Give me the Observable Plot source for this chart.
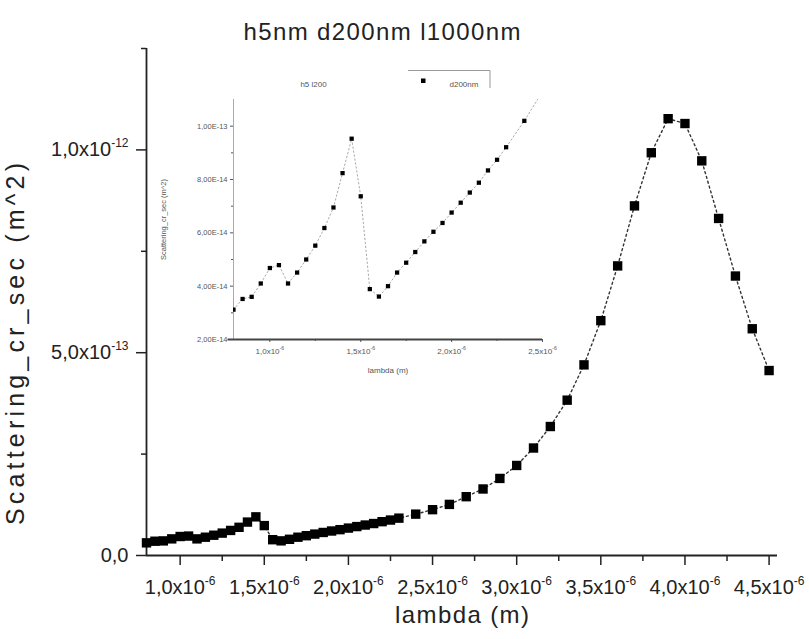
<!DOCTYPE html>
<html><head><meta charset="utf-8">
<script src="https://cdn.jsdelivr.net/npm/d3@7"></script>
<script src="https://cdn.jsdelivr.net/npm/@observablehq/plot@0.6"></script>
<style>
body{margin:0;background:#fff;font-family:"Liberation Sans",Arial,sans-serif}
#wrap{position:relative;width:810px;height:639px;overflow:hidden}
#inset{position:absolute;left:150px;top:60px}
</style></head><body>
<div id="wrap"><div id="main"></div><div id="inset"></div></div>
<script>
// wavelength (m) and scattering cross-section (m^2)
const lambda = [
  0.80e-6,0.85e-6,0.90e-6,0.95e-6,1.00e-6,1.05e-6,1.10e-6,1.15e-6,1.20e-6,1.25e-6,
  1.30e-6,1.35e-6,1.40e-6,1.45e-6,1.50e-6,1.55e-6,1.60e-6,1.65e-6,1.70e-6,1.75e-6,
  1.80e-6,1.85e-6,1.90e-6,1.95e-6,2.00e-6,2.05e-6,2.10e-6,2.15e-6,2.20e-6,2.25e-6,
  2.30e-6,2.40e-6,2.50e-6,2.60e-6,2.70e-6,2.80e-6,2.90e-6,3.00e-6,3.10e-6,3.20e-6,
  3.30e-6,3.40e-6,3.50e-6,3.60e-6,3.70e-6,3.80e-6,3.90e-6,4.00e-6,4.10e-6,4.20e-6,
  4.30e-6,4.40e-6,4.50e-6
];
const scattering = [
  3.12e-14,3.52e-14,3.60e-14,4.10e-14,4.68e-14,4.79e-14,4.10e-14,4.51e-14,5.00e-14,5.52e-14,
  6.18e-14,6.95e-14,8.24e-14,9.53e-14,7.37e-14,3.89e-14,3.61e-14,4.00e-14,4.51e-14,4.88e-14,
  5.28e-14,5.68e-14,6.04e-14,6.37e-14,6.76e-14,7.13e-14,7.51e-14,7.88e-14,8.34e-14,8.74e-14,
  9.21e-14,1.02e-13,1.13e-13,1.26e-13,1.45e-13,1.64e-13,1.90e-13,2.22e-13,2.65e-13,3.18e-13,
  3.83e-13,4.70e-13,5.79e-13,7.14e-13,8.62e-13,9.93e-13,1.077e-12,1.065e-12,9.73e-13,8.31e-13,
  6.89e-13,5.59e-13,4.56e-13
];
const title = "h5nm d200nm l1000nm";
const xLabel = "lambda (m)";
const yLabel = "Scattering_cr_sec (m^2)";
const xMajor = [1.0e-6,1.5e-6,2.0e-6,2.5e-6,3.0e-6,3.5e-6,4.0e-6,4.5e-6];
const xMinor = [1.25e-6,1.75e-6,2.25e-6,2.75e-6,3.25e-6,3.75e-6,4.25e-6];
const yMajor = [0, 5e-13, 1e-12];
const yMajorLabels = ["0,0","5,0x10^-13","1,0x10^-12"];
const yMinor = [2.5e-13, 7.5e-13, 1.25e-12];

const insetTitle = "h5 l200";
const insetLegend = "d200nm";
const insetXMajor = [1.0e-6,1.5e-6,2.0e-6,2.5e-6];
const insetXMinor = [1.25e-6,1.75e-6,2.25e-6];
const insetYMajor = [2e-14,4e-14,6e-14,8e-14,1e-13];
const insetYLabels = ["2,00E-14","4,00E-14","6,00E-14","8,00E-14","1,00E-13"];
const insetYMinor = [3e-14,5e-14,7e-14,9e-14];

const data = lambda.map((x,i)=>({x, y: scattering[i]}));
const fmtX = d => (d/1e-6).toFixed(1).replace(".", ",") + "x10^-6";
const xDom = [0.8e-6, 4.55e-6], yDom = [0, 1.25e-12];
const font = "'Liberation Sans', Arial, sans-serif";

const main = Plot.plot({
  width: 810, height: 639,
  marginLeft: 146, marginRight: 33, marginTop: 48, marginBottom: 84,
  x: {domain: xDom}, y: {domain: yDom},
  style: {fontFamily: font, color: "#222", background: "white", overflow: "visible"},
  marks: [
    Plot.axisX({ticks: xMajor, tickSize: 10, tickPadding: 14, tickFormat: fmtX, fontSize: 20, label: null, strokeWidth: 1.5}),
    Plot.axisX({ticks: xMinor, tickSize: 6, tickFormat: () => "", label: null, strokeWidth: 1.5}),
    Plot.axisY({ticks: yMajor, tickSize: 10, tickPadding: 8, tickFormat: d => yMajorLabels[yMajor.indexOf(d)], fontSize: 20, label: null, strokeWidth: 1.5}),
    Plot.axisY({ticks: yMinor, tickSize: 5, tickFormat: () => "", label: null, strokeWidth: 1.5}),
    Plot.ruleX([xDom[0]], {y1: yDom[0], y2: yDom[1], stroke: "#222", strokeWidth: 1.8}),
    Plot.ruleY([yDom[0]], {x1: xDom[0], x2: xDom[1], stroke: "#222", strokeWidth: 1.8}),
    Plot.line(data, {x: "x", y: "y", stroke: "#333", strokeWidth: 1.4, strokeDasharray: "2,3"}),
    Plot.dot(data, {x: "x", y: "y", symbol: "square", r: 5.3, fill: "black", stroke: "none"}),
    Plot.text([title], {frameAnchor: "top-left", dx: 235.5, dy: -26, textAnchor: "middle", fontSize: 24, fill: "#222"}),
    Plot.text([xLabel], {frameAnchor: "bottom", dy: 67, textAnchor: "middle", fontSize: 24, fill: "#222"}),
    Plot.text([yLabel], {frameAnchor: "left", dx: -131, dy: 42, rotate: -90, textAnchor: "middle", fontSize: 25, fill: "#222"})
  ]
});
document.getElementById("main").append(main);

// superscript exponents on tick labels
function superscripts(svg, scale) {
  d3.select(svg).selectAll('g[aria-label="x-axis tick label"] text, g[aria-label="y-axis tick label"] text').each(function () {
    const t = d3.select(this), s = t.text(), i = s.indexOf("^");
    if (i < 0) return;
    t.text(null);
    t.append("tspan").text(s.slice(0, i));
    t.append("tspan").attr("font-size", scale + "em").attr("dy", "-0.75em").text(s.slice(i + 1));
  });
}
superscripts(main, 0.6);
// stretch the big labels to the reference widths
function stretch(svg, content, len) {
  d3.select(svg).selectAll("text").filter(function () { return this.textContent === content; })
    .attr("textLength", len).attr("lengthAdjust", "spacing");
}
stretch(main, title, 277);
stretch(main, xLabel, 134);
stretch(main, yLabel, 362);

const inset = Plot.plot({
  width: 400, height: 330,
  marginLeft: 83, marginRight: 8, marginTop: 39, marginBottom: 51,
  x: {domain: [0.8e-6, 2.5e-6]}, y: {domain: [2e-14, 1.1e-13]},
  style: {fontFamily: font, color: "#555", background: "transparent", overflow: "visible"},
  marks: [
    Plot.axisX({ticks: insetXMajor, tickSize: 3, tickPadding: 6, tickFormat: fmtX, fontSize: 8, label: null}),
    Plot.axisX({ticks: insetXMinor, tickSize: 2, tickFormat: () => "", label: null}),
    Plot.axisY({ticks: insetYMajor, tickSize: 3, tickPadding: 3, tickFormat: d => insetYLabels[insetYMajor.indexOf(d)], fontSize: 7.5, label: null}),
    Plot.axisY({ticks: insetYMinor, tickSize: 2, tickFormat: () => "", label: null}),
    Plot.ruleX([0.8e-6], {y1: 2e-14, y2: 1.1e-13, stroke: "#aaa", strokeWidth: 1}),
    Plot.ruleY([2e-14], {x1: 0.77e-6, x2: 2.5e-6, stroke: "#444", strokeWidth: 2}),
    Plot.line(data, {x: "x", y: "y", stroke: "#aaa", strokeWidth: 1, strokeDasharray: "1.5,2.5", clip: true}),
    Plot.dot(data, {x: "x", y: "y", symbol: "square", r: 2.4, fill: "black", stroke: "none", clip: true}),
    Plot.text([insetTitle], {frameAnchor: "top-left", dx: 80, dy: -18, textAnchor: "middle", fontSize: 8, fill: "#555"}),
    Plot.text([insetLegend], {frameAnchor: "top-left", dx: 216, dy: -18, textAnchor: "start", fontSize: 8, fill: "#555"}),
    Plot.text([xLabel], {frameAnchor: "bottom", dy: 33, textAnchor: "middle", fontSize: 8, fill: "#555"}),
    Plot.text([yLabel], {frameAnchor: "left", dx: -70, rotate: -90, textAnchor: "middle", fontSize: 7.5, fill: "#555"})
  ]
});
superscripts(inset, 0.65);
document.getElementById("inset").append(inset);

// inset legend frame and symbol
const s = d3.select(inset);
s.append("path").attr("d", "M258,10.5H340V28").attr("fill", "none").attr("stroke", "#999").attr("stroke-width", 1);
s.append("rect").attr("x", 271).attr("y", 18.5).attr("width", 4.5).attr("height", 4.5).attr("fill", "black");
</script>
</body></html>
